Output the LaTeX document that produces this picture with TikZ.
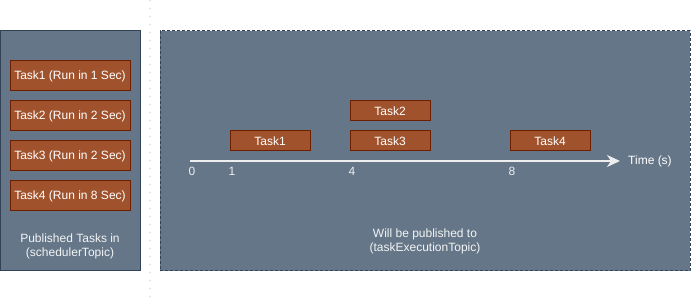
\documentclass[tikz,border=0pt]{standalone}
\usepackage{fontspec}
\setmainfont{Liberation Sans}
\usetikzlibrary{arrows.meta}
\definecolor{panelfill}{HTML}{647687}
\definecolor{paneledge}{HTML}{314354}
\definecolor{taskfill}{HTML}{A0522D}
\definecolor{taskedge}{HTML}{6D1F00}
\definecolor{axiscol}{HTML}{EEEEEE}
\definecolor{sepcol}{HTML}{E6E6E6}
\begin{document}
\begin{tikzpicture}[x=1pt,y=-1pt,
  every node/.style={font=\fontsize{12}{14.5}\selectfont, text=white, inner sep=0pt},
  panel/.style={draw=paneledge, fill=panelfill, line width=1pt},
  queued/.style={draw=taskedge, fill=taskfill, line width=1pt, minimum width=120pt, minimum height=30pt},
  slot/.style={draw=taskedge, fill=taskfill, line width=1pt, minimum width=80pt, minimum height=20pt},
  caption/.style={align=center, text=white!92!panelfill},
  ticklabel/.style={text=axiscol}
]
\useasboundingbox (0,0) rectangle (691,304);

% separator between the two panels
\coordinate (septop) at (150,0);
\coordinate (sepbot) at (150,304);
\draw[sepcol, line width=1.2pt, dash pattern=on 1pt off 7pt, line cap=round] (septop) -- (sepbot);

% left panel: tasks as published
\node[panel, minimum width=140pt, minimum height=240pt] (sched) at (70,151) {};
\node[queued] (q1) at (70,76) {Task1 (Run in 1 Sec)};
\node[queued] (q2) at (70,116) {Task2 (Run in 2 Sec)};
\node[queued] (q3) at (70,156) {Task3 (Run in 2 Sec)};
\node[queued] (q4) at (70,196) {Task4 (Run in 8 Sec)};
\node[caption] (schedcap) at (70,246.5) {Published Tasks in\\(schedulerTopic)};

% right panel: execution timeline
\node[panel, dashed, dash pattern=on 3pt off 2pt, minimum width=530pt, minimum height=240pt] (exec) at (425,151) {};

\coordinate (axis0) at (190,161);
\coordinate (axisend) at (620,161);
\draw[axiscol, line width=2pt, -{Stealth[length=13pt, width=12pt, inset=4pt]}] (axis0) -- (axisend);
\node[anchor=west] (timelbl) at (628,161) {Time (s)};

\node[ticklabel] (t0) at (192,171.5) {0};
\node[ticklabel] (t1) at (232,171.5) {1};
\node[ticklabel] (t4) at (352,171.5) {4};
\node[ticklabel] (t8) at (512,171.5) {8};

\node[slot] (r1) at (270,141) {Task1};
\node[slot] (r2) at (390,111) {Task2};
\node[slot] (r3) at (390,141) {Task3};
\node[slot] (r4) at (550,141) {Task4};

\node[caption] (execcap) at (425,241.5) {Will be published to\\(taskExecutionTopic)};
\end{tikzpicture}
\end{document}
